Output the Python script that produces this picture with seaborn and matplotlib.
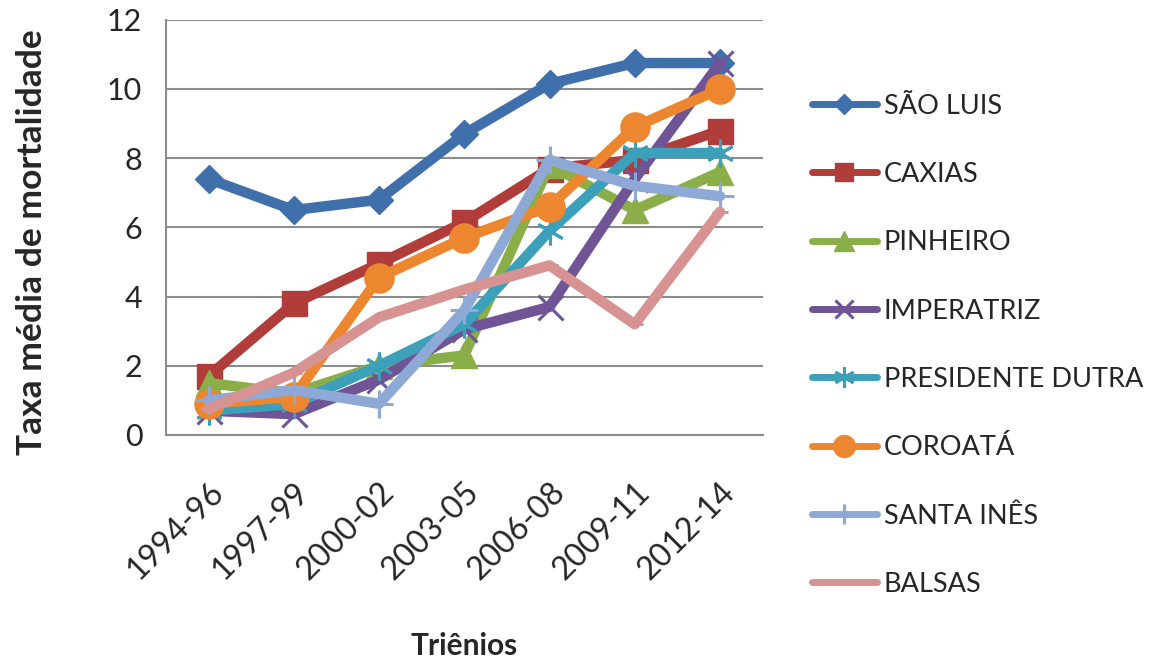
import pandas as pd
import matplotlib.pyplot as plt
import seaborn as sns
from matplotlib.lines import Line2D

# Taxa média de mortalidade por triênio
trienios = ["1994-96", "1997-99", "2000-02", "2003-05", "2006-08", "2009-11", "2012-14"]
municipios = ["SÃO LUIS", "CAXIAS", "PINHEIRO", "IMPERATRIZ",
              "PRESIDENTE DUTRA", "COROATÁ", "SANTA INÊS", "BALSAS"]

sao_luis = [7.4, 6.5, 6.8, 8.7, 10.15, 10.75, 10.75]
caxias = [1.7, 3.8, 4.95, 6.15, 7.7, 7.95, 8.8]
pinheiro = [1.5, 1.2, 2.0, 2.3, 7.8, 6.5, 7.6]
imperatriz = [0.7, 0.6, 1.6, 3.05, 3.7, 7.4, 10.75]
presidente_dutra = [0.7, 0.9, 2.0, 3.2, 5.9, 8.15, 8.15]
coroata = [0.9, 1.1, 4.55, 5.7, 6.6, 8.9, 10.0]
santa_ines = [1.0, 1.3, 0.9, 3.6, 7.95, 7.2, 6.9]
balsas = [0.75, 1.8, 3.4, 4.2, 4.9, 3.2, 6.45]

series = [sao_luis, caxias, pinheiro, imperatriz, presidente_dutra, coroata, santa_ines, balsas]

cores = ["#3F70AB", "#B13D3A", "#8AAE48", "#6F5496", "#3CA0BA", "#EC8730", "#8EA9D6", "#D69392"]
marcadores = ["D", "s", "^", "x", (6, 2, 0), "o", "+", "_"]
tamanhos = [14, 18, 19, 18, 20, 21, 20, 12]
bordas = [1, 1, 1, 2.2, 2.2, 1, 2.2, 2.2]

df = pd.DataFrame({
    "trienio": trienios * len(municipios),
    "taxa": sum(series, []),
    "municipio": [m for m in municipios for _ in trienios],
})

sns.set_theme(style="white")
plt.rcParams["font.family"] = ["Lato", "DejaVu Sans"]

fig = plt.figure(figsize=(11.52, 6.6), dpi=100)
ax = fig.add_axes([0.144, 0.341, 0.518, 0.629])

for i, m in enumerate(municipios):
    sub = df[df["municipio"] == m]
    sns.lineplot(data=sub, x="trienio", y="taxa", ax=ax, color=cores[i], sort=False,
                 linewidth=7.5, marker=marcadores[i], markersize=tamanhos[i],
                 markeredgewidth=bordas[i], markeredgecolor=cores[i], zorder=2 + i)

ax.set_xlim(-0.5, 6.5)
ax.set_ylim(0, 12)
ax.set_yticks(range(0, 13, 2))
ax.grid(axis="y", color="#8C8C8C", linewidth=1.5, zorder=0)
ax.set_axisbelow(True)
for s in ["top", "right"]:
    ax.spines[s].set_visible(False)
ax.spines["left"].set_color("#8C8C8C")
ax.spines["bottom"].set_color("#8C8C8C")
ax.spines["left"].set_linewidth(1.5)
ax.spines["bottom"].set_linewidth(1.5)
ax.tick_params(axis="y", length=5, color="#8C8C8C", width=1.5, labelsize=22, pad=12)
ax.tick_params(axis="x", length=0, labelsize=23, pad=30)
plt.setp(ax.get_xticklabels(), rotation=45, ha="right", rotation_mode="anchor")

ax.set_xlabel("Triênios", fontsize=21.5, fontweight="bold", labelpad=34)
ax.set_ylabel("Taxa média de mortalidade", fontsize=25.5, fontweight="bold")
ax.yaxis.set_label_coords(-0.198, 0.465)

handles = [Line2D([], [], color=cores[i], linewidth=5, marker=marcadores[i],
                  markersize=tamanhos[i] * 0.75, markeredgewidth=bordas[i],
                  markeredgecolor=cores[i]) for i in range(len(municipios))]
fig.legend(handles, municipios, loc="center left", bbox_to_anchor=(0.693, 0.477),
           frameon=False, fontsize=19.5, handlelength=2.4, handletextpad=0.25,
           labelspacing=1.6, borderpad=0)

fig.savefig("out.png", dpi=100)
